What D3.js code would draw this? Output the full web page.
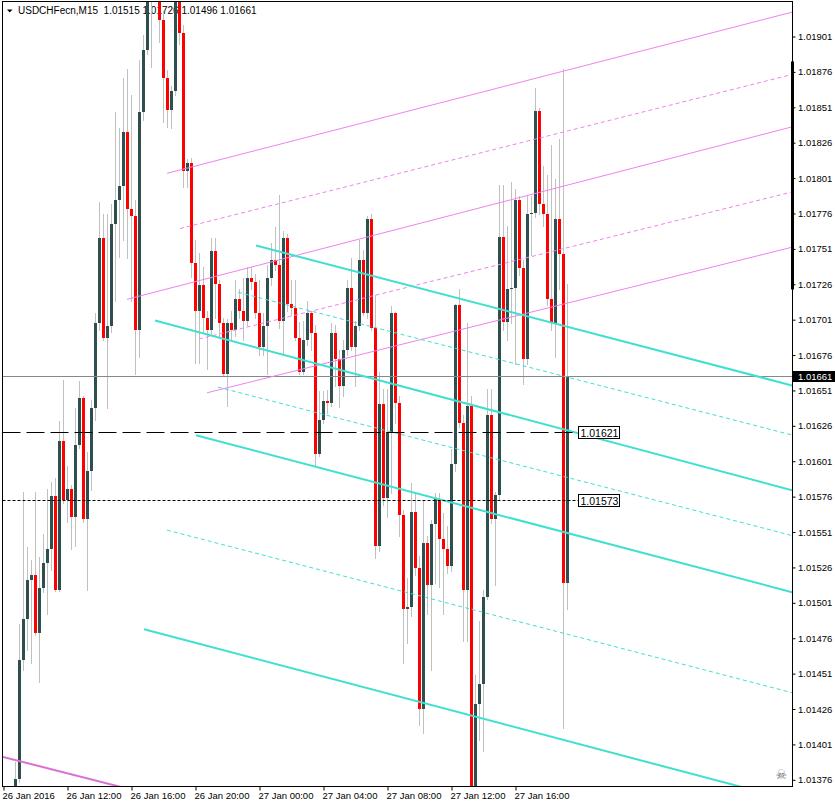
<!DOCTYPE html>
<html><head><meta charset="utf-8">
<script src="https://cdn.jsdelivr.net/npm/d3@7"></script>
<style>
body{margin:0;background:#fff}
svg{display:block}
text{font-family:"Liberation Sans",Arial,sans-serif;font-size:9.5px;fill:#000}
</style>
</head><body>
<svg id="c" width="835" height="808"></svg>
<script>
// ---------- DATA ----------
const symbolTitle = "USDCHFecn,M15";
const headerValues = ["1.01515", "1.01726", "1.01496", "1.01661"];
const startTime = new Date(2016, 0, 26, 8, 0);   // bar 0 = 26 Jan 2016 08:00 (M15 bars)
const firstBar = 3;                               // first visible bar index

const open = [1.01361,1.01376,1.01460,1.01489,1.01517,1.01520,1.01479,1.01511,1.01529,1.01539,
1.01576,1.01510,1.01615,1.01573,1.01581,1.01561,1.01612,1.01645,1.01560,1.01594,
1.01638,1.01698,1.01758,1.01688,1.01696,1.01768,1.01785,1.01795,1.01833,1.01779,
1.01774,1.01693,1.01847,1.01891,1.01941,1.01955,1.01944,1.01912,1.01871,1.01849,
1.01862,1.01930,1.01903,1.01806,1.01811,1.01741,1.01707,1.01725,1.01702,1.01693,
1.01749,1.01726,1.01698,1.01662,1.01698,1.01693,1.01715,1.01707,1.01700,1.01730,
1.01727,1.01705,1.01681,1.01696,1.01730,1.01743,1.01739,1.01700,1.01758,1.01712,
1.01709,1.01688,1.01664,1.01686,1.01705,1.01691,1.01606,1.01630,1.01643,1.01642,
1.01691,1.01673,1.01654,1.01679,1.01723,1.01681,1.01696,1.01743,1.01705,1.01772,
1.01695,1.01541,1.01641,1.01575,1.01621,1.01705,1.01642,1.01563,1.01496,1.01498,
1.01565,1.01525,1.01426,1.01543,1.01513,1.01556,1.01574,1.01546,1.01539,1.01527,
1.01599,1.01711,1.01628,1.01510,1.01640,1.01363,1.01429,1.01443,1.01505,1.01633,
1.01560,1.01577,1.01759,1.01699,1.01722,1.01723,1.01785,1.01737,1.01673,1.01775,
1.01776,1.01848,1.01782,1.01775,1.01715,1.01698,1.01772,1.01747,1.01515];

const high = [1.01388,1.01486,1.01579,1.01540,1.01531,1.01579,1.01533,1.01549,1.01581,1.01586,
1.01589,1.01629,1.01658,1.01597,1.01584,1.01638,1.01657,1.01647,1.01607,1.01644,
1.01705,1.01784,1.01775,1.01775,1.01782,1.01847,1.01836,1.01871,1.01878,1.01859,
1.01785,1.01884,1.01902,1.01948,1.01965,1.01969,1.01951,1.01919,1.01877,1.01866,
1.01937,1.01934,1.01909,1.01814,1.01815,1.01757,1.01748,1.01738,1.01707,1.01758,
1.01758,1.01729,1.01702,1.01701,1.01707,1.01729,1.01722,1.01730,1.01738,1.01738,
1.01733,1.01729,1.01705,1.01739,1.01755,1.01766,1.01789,1.01763,1.01761,1.01729,
1.01729,1.01699,1.01700,1.01714,1.01707,1.01697,1.01650,1.01650,1.01651,1.01698,
1.01697,1.01679,1.01686,1.01729,1.01744,1.01700,1.01757,1.01750,1.01774,1.01775,
1.01718,1.01664,1.01652,1.01652,1.01710,1.01706,1.01647,1.01566,1.01518,1.01585,
1.01578,1.01534,1.01573,1.01548,1.01559,1.01578,1.01578,1.01564,1.01555,1.01609,
1.01712,1.01722,1.01633,1.01698,1.01647,1.01450,1.01488,1.01510,1.01652,1.01652,
1.01579,1.01796,1.01796,1.01767,1.01798,1.01793,1.01788,1.01743,1.01788,1.01788,
1.01864,1.01850,1.01809,1.01803,1.01824,1.01800,1.01828,1.01878,1.01726];

const low = [1.01358,1.01374,1.01453,1.01467,1.01458,1.01478,1.01445,1.01508,1.01493,1.01524,
1.01509,1.01509,1.01571,1.01558,1.01539,1.01541,1.01610,1.01558,1.01510,1.01580,
1.01630,1.01693,1.01686,1.01638,1.01692,1.01714,1.01745,1.01757,1.01744,1.01714,
1.01662,1.01674,1.01842,1.01888,1.01879,1.01934,1.01897,1.01840,1.01837,1.01836,
1.01859,1.01895,1.01794,1.01794,1.01731,1.01670,1.01670,1.01691,1.01666,1.01690,
1.01702,1.01688,1.01661,1.01640,1.01686,1.01689,1.01702,1.01686,1.01697,1.01722,
1.01702,1.01676,1.01676,1.01662,1.01725,1.01736,1.01695,1.01676,1.01707,1.01704,
1.01686,1.01662,1.01662,1.01683,1.01679,1.01598,1.01604,1.01628,1.01635,1.01640,
1.01654,1.01639,1.01647,1.01676,1.01679,1.01654,1.01693,1.01704,1.01702,1.01693,
1.01532,1.01537,1.01570,1.01561,1.01578,1.01628,1.01548,1.01458,1.01472,1.01491,
1.01520,1.01414,1.01409,1.01493,1.01453,1.01515,1.01512,1.01493,1.01522,1.01523,
1.01594,1.01625,1.01474,1.01474,1.01354,1.01358,1.01404,1.01396,1.01503,1.01557,
1.01513,1.01573,1.01693,1.01686,1.01698,1.01669,1.01732,1.01655,1.01669,1.01746,
1.01773,1.01775,1.01767,1.01711,1.01693,1.01674,1.01722,1.01412,1.01496];

const close = [1.01376,1.01460,1.01489,1.01517,1.01520,1.01479,1.01511,1.01529,1.01539,1.01576,
1.01510,1.01615,1.01573,1.01581,1.01561,1.01612,1.01645,1.01560,1.01594,1.01638,
1.01698,1.01758,1.01688,1.01696,1.01768,1.01785,1.01795,1.01833,1.01779,1.01774,
1.01693,1.01847,1.01891,1.01941,1.01955,1.01944,1.01912,1.01871,1.01849,1.01862,
1.01930,1.01903,1.01806,1.01811,1.01741,1.01707,1.01725,1.01702,1.01693,1.01749,
1.01726,1.01698,1.01662,1.01698,1.01693,1.01715,1.01707,1.01700,1.01730,1.01727,
1.01705,1.01681,1.01696,1.01730,1.01743,1.01739,1.01700,1.01758,1.01712,1.01709,
1.01688,1.01664,1.01686,1.01705,1.01691,1.01606,1.01630,1.01643,1.01642,1.01691,
1.01673,1.01654,1.01679,1.01723,1.01681,1.01696,1.01743,1.01705,1.01772,1.01695,
1.01541,1.01641,1.01575,1.01621,1.01705,1.01642,1.01563,1.01496,1.01498,1.01565,
1.01525,1.01426,1.01543,1.01513,1.01556,1.01574,1.01546,1.01539,1.01527,1.01599,
1.01711,1.01628,1.01510,1.01640,1.01363,1.01429,1.01443,1.01505,1.01633,1.01560,
1.01577,1.01759,1.01699,1.01722,1.01723,1.01785,1.01737,1.01673,1.01775,1.01776,
1.01848,1.01782,1.01775,1.01715,1.01698,1.01772,1.01747,1.01515,1.01661];

const timeTickBars = [0, 16, 32, 48, 64, 80, 96, 112, 128];
const timeTickLabels = ["26 Jan 2016","26 Jan 12:00","26 Jan 16:00","26 Jan 20:00",
  "27 Jan 00:00","27 Jan 04:00","27 Jan 08:00","27 Jan 12:00","27 Jan 16:00"];

const priceTicks = [1.01901,1.01876,1.01851,1.01826,1.01801,1.01776,1.01751,1.01726,1.01701,
  1.01676,1.01651,1.01626,1.01601,1.01576,1.01551,1.01526,1.01501,1.01476,1.01451,1.01426,
  1.01401,1.01376];

const currentPrice = 1.01661;
const levelPrices = [1.01621, 1.01573];     // horizontal levels with labels
const levelLabelBar = 143.75;

// trend lines: [bar1, price1, bar2, price2]
const violetSolid = [[41, 1.01804, 197.5, 1.01918], [31, 1.01715, 197.5, 1.01837], [51, 1.01649, 197.5, 1.01752]];
const violetDashed = [[44.25, 1.01765, 197.5, 1.01874], [49, 1.01687, 197.5, 1.01791]];
const orchidLine = [[-0.25, 1.01392, 40, 1.01363]];
const cyanSolid = [[63.25, 1.01753, 197.5, 1.01654], [38, 1.01700, 197.5, 1.01580],
  [48.25, 1.01619, 197.5, 1.01508], [35.25, 1.01482, 197.5, 1.01361]];
const cyanDashed = [[58.75, 1.01720, 197.5, 1.01619], [53.75, 1.01653, 197.5, 1.01548],
  [41, 1.01552, 197.5, 1.01437]];

// ---------- CHART ----------
const svg = d3.select("#c");
const W = 835, H = 808;
const L = 2.5, T = 1.5, R = 792.5, B = 786.5;
const barMs = 15 * 60 * 1000;
const barTime = k => new Date(startTime.getTime() + k * barMs);

const x = d3.scaleTime().domain([barTime(0), barTime(197)]).range([3, 791]);
const y = d3.scaleLinear().domain([1.01376, 1.01901]).range([779.3, 36]);

svg.append("rect").attr("width", W).attr("height", H).attr("fill", "#fff");

svg.append("defs").append("clipPath").attr("id", "plot")
  .append("rect").attr("x", L).attr("y", T).attr("width", R - L).attr("height", B - T);

// header
const hdr = svg.append("g");
hdr.append("path").attr("d", "M7,9.5 L12.5,9.5 L9.75,12.5 Z").attr("fill", "#000");
hdr.append("text").attr("x", 18).attr("y", 13.5).attr("xml:space", "preserve")
  .style("font-size", "10px")
  .text(symbolTitle + "  " + headerValues.join(" "));

const plot = svg.append("g").attr("clip-path", "url(#plot)");

// candles
const bars = open.map((o, i) => ({
  t: barTime(firstBar + i), o, h: high[i], l: low[i], c: close[i]
}));
const cg = plot.append("g");
bars.forEach(d => {
  const xc = Math.round(x(d.t));
  cg.append("line")
    .attr("x1", xc + 0.5).attr("x2", xc + 0.5)
    .attr("y1", Math.round(y(d.h))).attr("y2", Math.round(y(d.l)) + 1)
    .attr("stroke", "#c0c0c0").attr("stroke-width", 1);
});
bars.forEach(d => {
  const xc = Math.round(x(d.t));
  const top = Math.round(y(Math.max(d.o, d.c)));
  const bot = Math.round(y(Math.min(d.o, d.c)));
  cg.append("rect")
    .attr("x", xc - 1).attr("width", 3)
    .attr("y", top).attr("height", Math.max(1, bot - top))
    .attr("fill", d.c >= d.o ? "#2f4f4f" : "#ff0000");
});

// current price line
plot.append("line").attr("x1", L).attr("x2", R)
  .attr("y1", Math.round(y(currentPrice)) + 0.5).attr("y2", Math.round(y(currentPrice)) + 0.5)
  .attr("stroke", "#85898d").attr("stroke-width", 1);

// trend lines
function drawLines(arr, color, width, dash) {
  arr.forEach(s => {
    plot.append("line")
      .attr("x1", x(barTime(s[0]))).attr("y1", y(s[1]))
      .attr("x2", x(barTime(s[2]))).attr("y2", y(s[3]))
      .attr("stroke", color).attr("stroke-width", width)
      .attr("stroke-dasharray", dash);
  });
}
drawLines(violetSolid, "#ee82ee", 1, null);
drawLines(violetDashed, "#ee82ee", 1, "4,3");
drawLines(orchidLine, "#da70d6", 2, null);
drawLines(cyanSolid, "#40e0d0", 2, null);
drawLines(cyanDashed, "#40e0d0", 1, "4,3");

// horizontal levels
const lx = x(barTime(levelLabelBar));
levelPrices.forEach((p, i) => {
  const yy = Math.round(y(p)) + 0.5;
  plot.append("line").attr("x1", L).attr("x2", lx).attr("y1", yy).attr("y2", yy)
    .attr("stroke", "#000").attr("stroke-width", 1)
    .attr("stroke-dasharray", i === 0 ? "18,6" : "3,2");
});
levelPrices.forEach(p => {
  const yy = Math.round(y(p));
  const g = plot.append("g");
  g.append("rect").attr("x", lx + 0.5).attr("y", yy - 5.5).attr("width", 41).attr("height", 12)
    .attr("fill", "#fff").attr("stroke", "#000").attr("stroke-width", 1);
  g.append("text").attr("x", lx + 2.5).attr("y", yy + 4.5).style("font-size", "10.5px")
    .text(p.toFixed(5));
});

// skull icon
svg.append("text").attr("x", 775.5).attr("y", 779).style("font-family", "DejaVu Sans")
  .style("font-size", "13px").style("fill", "#707070").text("\u2620");

// frame
svg.append("rect").attr("x", L).attr("y", T).attr("width", R - L).attr("height", B - T)
  .attr("fill", "none").attr("stroke", "#000").attr("stroke-width", 1);

// bottom time axis
const xAxis = d3.axisBottom(x)
  .tickValues(timeTickBars.map(barTime))
  .tickFormat((d, i) => timeTickLabels[i])
  .tickSizeInner(4).tickSizeOuter(0);
const gx = svg.append("g").attr("transform", `translate(0.5,${B})`).call(xAxis);
gx.select(".domain").remove();
gx.selectAll("line").attr("stroke", "#000");
gx.selectAll("text").attr("text-anchor", "start").attr("x", -1.5).attr("y", 6)
  .style("font-family", "\"Liberation Sans\",Arial,sans-serif").style("font-size", "9.5px");

// right price axis
const yAxis = d3.axisRight(y).tickValues(priceTicks).tickFormat(d3.format(".5f"))
  .tickSizeInner(3).tickSizeOuter(0);
const gy = svg.append("g").attr("transform", `translate(${R},0.5)`).call(yAxis);
gy.select(".domain").remove();
gy.selectAll("line").attr("stroke", "#000");
gy.selectAll("text").attr("x", 5.5)
  .style("font-family", "\"Liberation Sans\",Arial,sans-serif").style("font-size", "9.5px");

// scroll marker on price axis
svg.append("rect").attr("x", 791).attr("y", y(1.01883)).attr("width", 3)
  .attr("height", y(1.01722) - y(1.01883)).attr("fill", "#000");

// current price tag
const cy = Math.round(y(currentPrice));
svg.append("rect").attr("x", 793).attr("y", cy - 5).attr("width", 42).attr("height", 11).attr("fill", "#000");
svg.append("text").attr("x", 798).attr("y", cy + 3.5).style("fill", "#fff").text(currentPrice.toFixed(5));
</script>
</body></html>
